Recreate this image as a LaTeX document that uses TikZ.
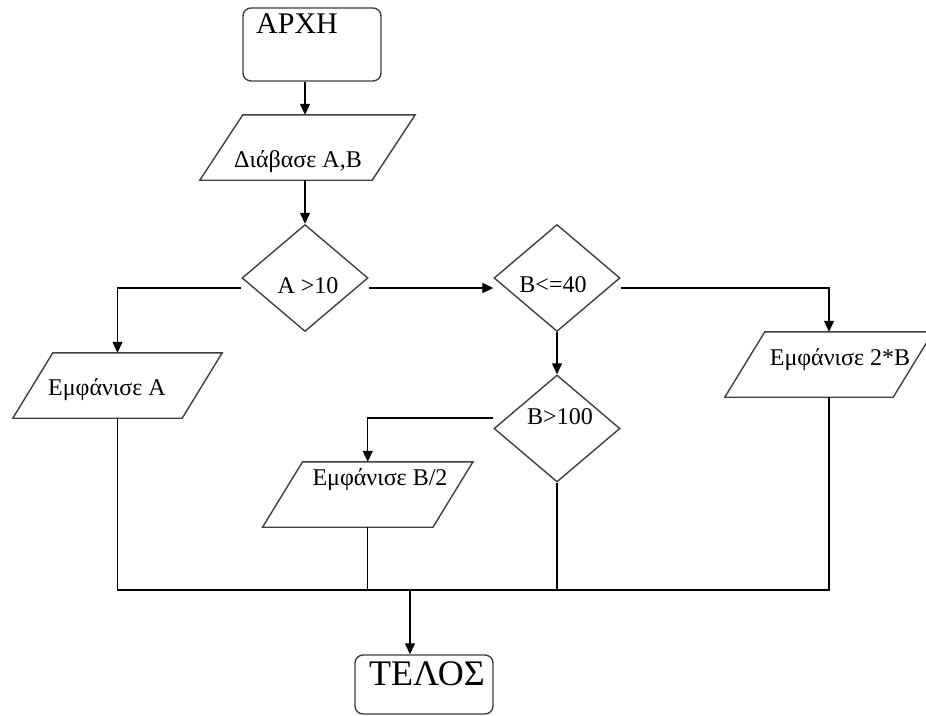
\documentclass[tikz,border=0pt]{standalone}
\usepackage{fontspec}
\setmainfont{Liberation Serif}
\usetikzlibrary{shapes.geometric,arrows.meta}
\newcommand\drawpara[2]{\draw[shp] ([xshift=#2]#1.north west) -- ([xshift=#2]#1.north east) -- ([xshift=-#2]#1.south east) -- ([xshift=-#2]#1.south west) -- cycle;}
\begin{document}
\begin{tikzpicture}[x=1pt,y=-1pt,
  shp/.style={draw=black!75,line width=1.4pt},
  box/.style={shp,rounded corners=8pt,inner sep=0pt},
  dia/.style={shp,diamond,inner sep=0pt,minimum width=126pt,minimum height=107pt},
  body/.style={inner sep=0pt,minimum height=65pt},
  conn/.style={draw=black,line width=1.3pt},
  arr/.style={conn,-{Triangle[length=11pt,width=10pt]}},
  txt/.style={anchor=base,inner sep=0pt,font=\fontsize{24}{26}\selectfont}]
\useasboundingbox (0,0) rectangle (926,715);
\fill[white] (0,0) rectangle (926,715);
% shapes
\node[box,minimum width=138pt,minimum height=73pt] (start) at (312,44.5) {};
\node[body,minimum width=172pt] (rd) at (307.5,147.5) {};
\drawpara{rd}{21.5pt}
\node[dia] (d1) at (305,278) {};
\node[body,minimum width=169pt] (pA) at (117.5,385.5) {};
\drawpara{pA}{20pt}
\node[dia] (d2) at (557,278) {};
\node[body,minimum width=168pt] (p2B) at (829,364.5) {};
\drawpara{p2B}{20pt}
\node[dia] (d3) at (557,428.5) {};
\node[body,minimum width=170pt] (pB2) at (367.75,494.5) {};
\drawpara{pB2}{20pt}
\node[box,minimum width=138pt,minimum height=59pt] (end) at (424,684.5) {};
% texts
\node[txt,font=\fontsize{30}{32}\selectfont] (tstart) at (297,33) {ΑΡΧΗ};
\node[txt] (trd) at (298,167) {Διάβασε Α,Β};
\node[txt] (td1) at (308,293) {A >10};
\node[txt] (tpA) at (107,395) {Εμφάνισε A};
\node[txt] (td2) at (553,292) {B<=40};
\node[txt] (tp2B) at (840,365) {Εμφάνισε 2*B};
\node[txt] (td3) at (560,424) {B>100};
\node[txt] (tpB2) at (380,485) {Εμφάνισε B/2};
\node[txt,font=\fontsize{36}{38}\selectfont] (tend) at (427,685) {ΤΕΛΟΣ};
% connectors
\coordinate (bus) at (410,590);
\draw[arr] (start.south -| d1) -- (rd.north -| d1);
\draw[arr] (rd.south -| d1) -- (d1.north);
\draw[arr] ([yshift=-10pt]d1.west) -| (pA.north);
\draw[arr] ([yshift=-10pt]d1.east) -- ([yshift=-10pt]d2.west);
\draw[arr] ([yshift=-10pt]d2.east) -| (p2B.north);
\draw[arr] (d2.south) -- (d3.north);
\draw[arr] ([yshift=10.5pt]d3.west) -| (pB2.north);
\draw[conn] (pA.south) |- (bus) -| (p2B.south);
\draw[conn] (pB2.south) -- (pB2.south |- bus);
\draw[conn] (d3.south) -- (d3.south |- bus);
\draw[arr] (bus) -- (end.north -| bus);
\end{tikzpicture}
\end{document}
